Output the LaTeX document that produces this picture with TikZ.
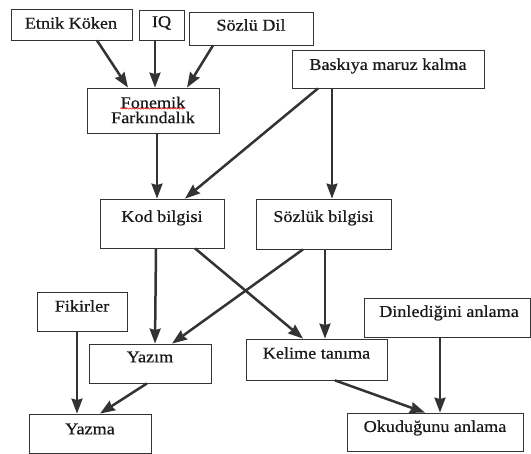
\documentclass[tikz,border=0pt]{standalone}
\usepackage{fontspec}
\setmainfont{Liberation Serif}[FakeStretch=1.1,FakeBold=0.6]
\usetikzlibrary{arrows.meta,decorations.pathmorphing}
\begin{document}
\begin{tikzpicture}[x=1pt,y=-1pt,
  box/.style={draw=black!80,line width=0.8pt,rectangle,inner sep=0pt},
  lbl/.style={font=\fontsize{16.5}{19}\selectfont,text=black!90,inner sep=0pt,align=center},
  arr/.style={draw=black!80,line width=2.5pt,-{Stealth[length=15pt,width=11pt,inset=1.5pt]}}]
\useasboundingbox[fill=white] (0,0) rectangle (531,454);
% boxes: centre (x,y), width, height
\node[box,minimum width=121,minimum height=31] (etnik) at (71.5,24.5) {};
\node[box,minimum width=45,minimum height=30] (iq) at (161.5,25) {};
\node[box,minimum width=124,minimum height=33] (sozlu) at (251,28.5) {};
\node[box,minimum width=132,minimum height=45] (fon) at (153,110.5) {};
\node[box,minimum width=192,minimum height=38] (bask) at (388,69) {};
\node[box,minimum width=124,minimum height=49] (kod) at (162,223.5) {};
\node[box,minimum width=135,minimum height=50] (sozluk) at (323.5,224) {};
\node[box,minimum width=90,minimum height=39] (fik) at (82,311.5) {};
\node[box,minimum width=122,minimum height=39] (yazim) at (150,363.5) {};
\node[box,minimum width=141,minimum height=41] (kel) at (316.5,359.5) {};
\node[box,minimum width=166,minimum height=39] (din) at (447,317.5) {};
\node[box,minimum width=122,minimum height=39] (yazma) at (90,433.5) {};
\node[box,minimum width=176,minimum height=38] (oku) at (435,432) {};
% labels
\node[lbl] (etnikt) at (71,23) {Etnik Köken};
\node[lbl] (iqt) at (161.5,23) {IQ};
\node[lbl] (sozlut) at (251,25) {Sözlü Dil};
\node[lbl,font=\fontsize{16.5}{15}\selectfont] (font) at (153,110) {Fonemik\\Farkındalık};
\node[lbl] (baskt) at (388,66) {Baskıya maruz kalma};
\node[lbl] (kodt) at (162,218) {Kod bilgisi};
\node[lbl] (sozlukt) at (323.5,218) {Sözlük bilgisi};
\node[lbl] (fikt) at (82,306) {Fikirler};
\node[lbl] (yazimt) at (150,357) {Yazım};
\node[lbl] (kelt) at (316.5,353) {Kelime tanıma};
\node[lbl] (dint) at (449,313) {Dinlediğini anlama};
\node[lbl] (yazmat) at (90,429) {Yazma};
\node[lbl] (okut) at (435,428) {Okuduğunu anlama};
% spell-check squiggle
\coordinate (sq1) at (120,108.5);
\coordinate (sq2) at (185,108.5);
\draw[red,line width=0.5pt,decorate,decoration={snake,amplitude=0.7pt,segment length=3pt}] (sq1) -- (sq2);
% connectors
\draw[arr] ([xshift=25.5]etnik.south) -- ([xshift=-25]fon.north);
\draw[arr] ([xshift=-6.5]iq.south) -- ([xshift=2]fon.north);
\draw[arr] ([xshift=-38]sozlu.south) -- ([xshift=34]fon.north);
\draw[arr] ([xshift=4]fon.south) -- ([xshift=-5]kod.north);
\draw[arr] ([xshift=-70]bask.south) -- ([xshift=23]kod.north);
\draw[arr] ([xshift=-56]bask.south) -- ([xshift=8.5]sozluk.north);
\draw[arr] ([xshift=-6]kod.south) -- ([xshift=5]yazim.north);
\draw[arr] ([xshift=33]kod.south) -- ([xshift=-13.5]kel.north);
\draw[arr] ([xshift=-20.5]sozluk.south) -- ([xshift=22]yazim.north);
\draw[arr] ([xshift=1.5]sozluk.south) -- ([xshift=8.5]kel.north);
\draw[arr] ([xshift=-5]fik.south) -- ([xshift=-13]yazma.north);
\draw[arr] ([xshift=-3]yazim.south) -- ([xshift=10]yazma.north);
\draw[arr] ([xshift=18.5]kel.south) -- ([xshift=-10]oku.north);
\draw[arr] ([xshift=-7]din.south) -- ([xshift=5]oku.north);
\end{tikzpicture}
\end{document}
